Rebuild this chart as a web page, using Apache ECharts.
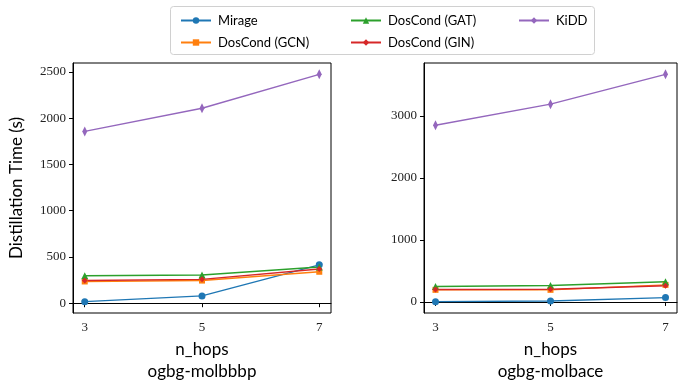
<!DOCTYPE html>
<html>
<head>
<meta charset="utf-8">
<script src="https://cdn.jsdelivr.net/npm/echarts@6/dist/echarts.min.js"></script>
<style>
    html, body { margin: 0; padding: 0; background: #fff; }
    #chart { width: 678px; height: 381px; }
</style>
</head>
<body>
<div id="chart"></div>
<script>
    // n_hops on the x axis
    const hops = [3, 5, 7];

    // ogbg-molbbbp
    const bbbpMirage = [17, 79, 415];
    const bbbpGcn = [235, 245, 340];
    const bbbpGat = [297, 305, 392];
    const bbbpGin = [245, 258, 370];
    const bbbpKidd = [1858, 2108, 2475];

    // ogbg-molbace
    const baceMirage = [5, 15, 70];
    const baceGcn = [195, 195, 275];
    const baceGat = [250, 265, 325];
    const baceGin = [200, 205, 262];
    const baceKidd = [2850, 3190, 3670];

    const bbbpTicks = [0, 500, 1000, 1500, 2000, 2500];
    const baceTicks = [0, 1000, 2000, 3000];

    const names = ['Mirage', 'DosCond (GCN)', 'DosCond (GAT)', 'DosCond (GIN)', 'KiDD'];
    const colors = ['#1f77b4', '#ff7f0e', '#2ca02c', '#d62728', '#9467bd'];
    const symbols = ['circle', 'rect', 'triangle', 'diamond', 'diamond'];
    const symbolSizes = [7, 6, 7, 6, [5, 10]];

    const sansFont = 'Lato';
    const serifFont = 'Liberation Serif';

    // matplotlib style 5% margins
    function pad(lists) {
        const all = [].concat(...lists);
        const lo = Math.min(...all);
        const hi = Math.max(...all);
        const m = (hi - lo) * 0.05;
        return [lo - m, hi + m];
    }

    const bbbpAll = [bbbpMirage, bbbpGcn, bbbpGat, bbbpGin, bbbpKidd];
    const baceAll = [baceMirage, baceGcn, baceGat, baceGin, baceKidd];
    const bbbpExt = pad(bbbpAll);
    const baceExt = pad(baceAll);

    const plain = v => String(v);

    function xAxis(idx, title) {
        return {
            type: 'value',
            gridIndex: idx,
            min: 2.8,
            max: 7.2,
            name: title,
            nameLocation: 'middle',
            nameGap: 26,
            nameTextStyle: { fontFamily: sansFont, fontSize: 17, color: '#000', lineHeight: 22 },
            axisLine: { show: true, lineStyle: { color: '#000', width: 1 } },
            axisTick: { show: true, length: 4, inside: false, customValues: hops, lineStyle: { color: '#000' } },
            axisLabel: { customValues: hops, formatter: plain, margin: 8, fontFamily: serifFont, fontSize: 13, color: '#222' },
            splitLine: { show: false }
        };
    }

    function yAxis(idx, ext, ticks, title) {
        return {
            type: 'value',
            gridIndex: idx,
            min: ext[0],
            max: ext[1],
            name: title,
            nameLocation: 'middle',
            nameGap: 48,
            nameTextStyle: { fontFamily: sansFont, fontSize: 17, color: '#000' },
            axisLine: { show: true, lineStyle: { color: '#000', width: 1 } },
            axisTick: { show: true, length: 4, inside: false, customValues: ticks, lineStyle: { color: '#000' } },
            axisLabel: { customValues: ticks, formatter: plain, margin: 7, fontFamily: serifFont, fontSize: 13, color: '#222' },
            splitLine: { show: false }
        };
    }

    const series = [];
    [bbbpAll, baceAll].forEach((group, g) => {
        group.forEach((vals, i) => {
            series.push({
                name: names[i],
                type: 'line',
                xAxisIndex: g,
                yAxisIndex: g,
                data: hops.map((h, k) => [h, vals[k]]),
                symbol: symbols[i],
                symbolSize: symbolSizes[i],
                showAllSymbol: true,
                itemStyle: { color: colors[i] },
                lineStyle: { color: colors[i], width: 1.4 },
                emphasis: { disabled: true },
                animation: false
            });
        });
    });

    function legend(left, data) {
        return {
            left,
            top: 9,
            orient: 'vertical',
            data,
            itemWidth: 30,
            itemHeight: 8,
            itemGap: 9,
            textStyle: { fontFamily: sansFont, fontSize: 13, color: '#000', padding: [0, 0, 0, 2] }
        };
    }

    const chart = echarts.init(document.getElementById('chart'), null, { renderer: 'canvas' });
    chart.setOption({
        animation: false,
        color: colors,
        grid: [
            { left: 73, top: 63, width: 258, height: 250, show: true, borderColor: '#000', borderWidth: 1, outerBoundsMode: 'none', containLabel: false },
            { left: 424, top: 63, width: 253, height: 250, show: true, borderColor: '#000', borderWidth: 1, outerBoundsMode: 'none', containLabel: false }
        ],
        xAxis: [xAxis(0, 'n_hops\nogbg-molbbbp'), xAxis(1, 'n_hops\nogbg-molbace')],
        yAxis: [yAxis(0, bbbpExt, bbbpTicks, 'Distillation Time (s)'), yAxis(1, baceExt, baceTicks, '')],
        graphic: [{
            type: 'rect',
            shape: { x: 170.5, y: 6.5, width: 424, height: 48, r: 3 },
            style: { fill: '#fff', stroke: '#d0d0d0', lineWidth: 1 },
            z: -1
        }],
        legend: [
            legend(175, ['Mirage', 'DosCond (GCN)']),
            legend(345, ['DosCond (GAT)', 'DosCond (GIN)']),
            legend(513, ['KiDD'])
        ],
        series
    });
</script>
</body>
</html>
